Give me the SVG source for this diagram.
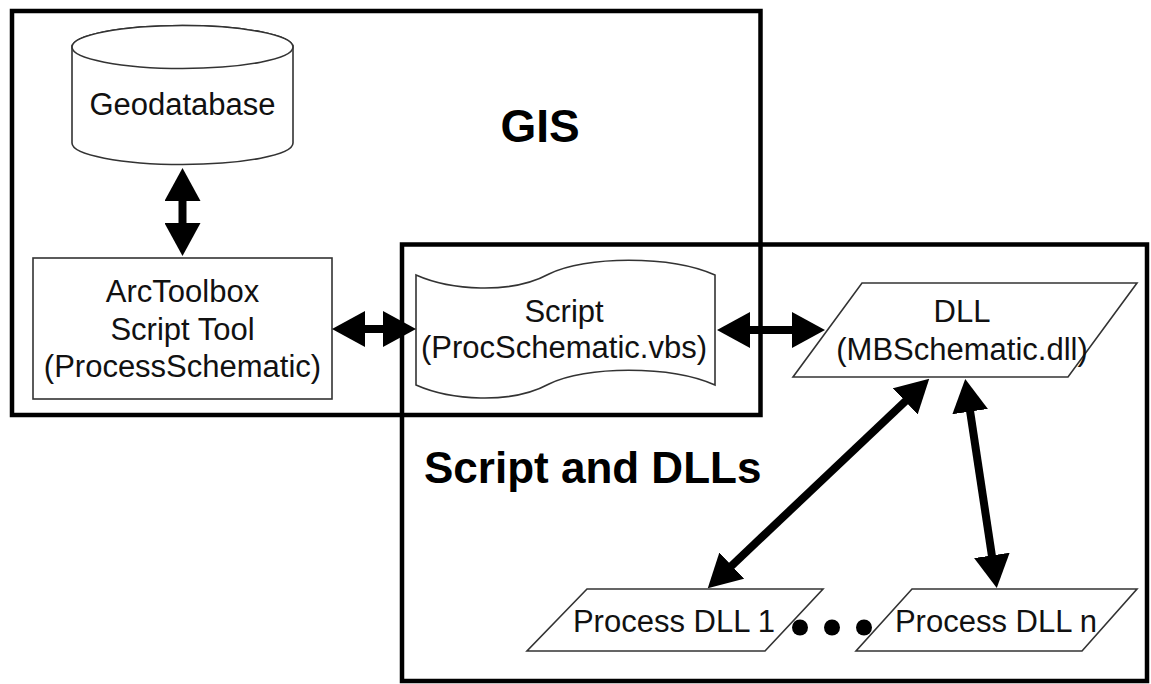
<svg xmlns="http://www.w3.org/2000/svg" width="1151" height="684" viewBox="0 0 1151 684">
<style>
.frame{fill:none;stroke:#000;stroke-width:4.5}
.shape{fill:#fff;stroke:#333;stroke-width:1.6}
.lbl{font-family:"Liberation Sans",Arial,sans-serif;font-size:31px;fill:#111;text-anchor:middle}
.title{font-family:"Liberation Sans",Arial,sans-serif;font-weight:bold;fill:#000}
.conn{stroke:#000;stroke-width:8;fill:none;marker-start:url(#head);marker-end:url(#head)}
</style>
<defs>
<marker id="head" markerUnits="userSpaceOnUse" viewBox="0 0 33 36" markerWidth="33" markerHeight="36" refX="1" refY="18" orient="auto-start-reverse">
<path d="M0,0 L33,18 L0,36 Z" fill="#000"/>
</marker>
</defs>
<rect width="1151" height="684" fill="#fff"/>
<g id="gis">
<rect class="frame" x="12" y="11" width="748.5" height="404"/>
<text class="title" x="540" y="142" font-size="46" text-anchor="middle">GIS</text>
</g>
<g id="script-and-dlls">
<rect class="frame" x="402" y="244.5" width="745" height="436.5"/>
<text class="title" x="424" y="483" font-size="44">Script and DLLs</text>
</g>
<g id="geodatabase">
<path class="shape" d="M72,47 L72,143 A110.5,21.5 0 0 0 293,143 L293,47 A110.5,21.5 0 0 0 72,47 Z"/>
<ellipse class="shape" cx="182.5" cy="47" rx="110.5" ry="21.5"/>
<text class="lbl" x="182.5" y="115">Geodatabase</text>
</g>
<g id="arctoolbox">
<rect class="shape" x="33" y="258" width="299" height="141"/>
<text class="lbl" x="182.5" y="302">ArcToolbox</text>
<text class="lbl" x="182.5" y="340">Script Tool</text>
<text class="lbl" x="182.5" y="377">(ProcessSchematic)</text>
</g>
<g id="script">
<path class="shape" d="M416,275 C450,290 510,295 549,274 C585,256 670,255 715,275 L715,385 C670,365 585,366 549,384 C510,405 450,400 416,385 Z"/>
<text class="lbl" x="564" y="322">Script</text>
<text class="lbl" x="564" y="358">(ProcSchematic.vbs)</text>
</g>
<g id="dll">
<polygon class="shape" points="862,283 1137,283 1068,377 793,377"/>
<text class="lbl" x="962" y="322">DLL</text>
<text class="lbl" x="962" y="360">(MBSchematic.dll)</text>
</g>
<g id="process-dll-1">
<polygon class="shape" points="587,589 823,589 765,651 527,651"/>
<text class="lbl" x="674" y="632">Process DLL 1</text>
</g>
<g id="process-dll-n">
<polygon class="shape" points="912,589 1137,589 1082,651 856,651"/>
<text class="lbl" x="996" y="632">Process DLL n</text>
</g>
<g id="ellipsis">
<circle cx="800" cy="627.5" r="8" fill="#000"/>
<circle cx="832" cy="627.5" r="8" fill="#000"/>
<circle cx="864" cy="627.5" r="8" fill="#000"/>
</g>
<g id="connectors">
<line class="conn" x1="182.5" y1="200" x2="182.5" y2="224"/>
<line class="conn" x1="364" y1="329" x2="384" y2="329"/>
<line class="conn" x1="749" y1="330" x2="793" y2="330"/>
<line class="conn" x1="906" y1="400.7" x2="731" y2="566.3"/>
<line class="conn" x1="970" y1="410.6" x2="992" y2="556.4"/>
</g>
</svg>
